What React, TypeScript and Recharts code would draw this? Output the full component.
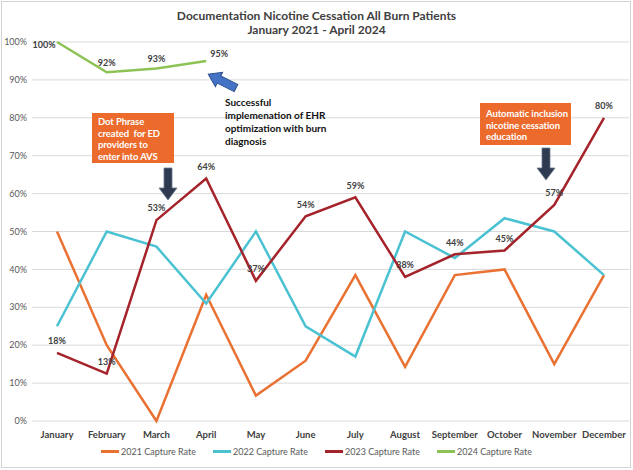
import React from 'react';
import { LineChart, Line, XAxis, YAxis, CartesianGrid } from 'recharts';

const months = ['January', 'February', 'March', 'April', 'May', 'June', 'July', 'August', 'September', 'October', 'November', 'December'];
const rate2021 = [50, 20, 0, 33.3, 6.7, 15.9, 38.5, 14.3, 38.5, 40, 15, 38.5];
const rate2022 = [25, 50, 46, 31, 50, 25, 17, 50, 43, 53.5, 50, 38.5];
const rate2023 = [18, 12.5, 53, 64, 37, 54, 59, 38, 44, 45, 57, 80];
const rate2024 = [100, 92, 93, 95];
const yTicks = [0, 10, 20, 30, 40, 50, 60, 70, 80, 90, 100];
const seriesNames = ['2021 Capture Rate', '2022 Capture Rate', '2023 Capture Rate', '2024 Capture Rate'];

const COLORS = ['#E97132', '#4BC2D2', '#A5232B', '#8DC255'];
const FONT = 'Lato, "Open Sans", sans-serif';

const data = months.map((m, i) => ({
  month: m,
  r2021: rate2021[i],
  r2022: rate2022[i],
  r2023: rate2023[i],
  r2024: i < rate2024.length ? rate2024[i] : null,
}));

const labelStyle = { fontSize: 9, fontWeight: 700, fill: '#404040', fontFamily: FONT };

const label2023 = (props: any) => {
  const { x, y, value, index } = props;
  if (value == null) return null;
  return (
    <text key={'l23' + index} x={x} y={y - 11} textAnchor="middle" dominantBaseline="middle" style={labelStyle}>
      {Math.round(value)}%
    </text>
  );
};

const label2024 = (props: any) => {
  const { x, y, value, index } = props;
  if (value == null) return null;
  let dx = 0;
  let dy = -9;
  if (index === 0) { dx = -13; dy = 4; }
  if (index === 3) { dx = 13; dy = -6; }
  return (
    <text key={'l24' + index} x={x + dx} y={y + dy} textAnchor="middle" dominantBaseline="middle" style={labelStyle}>
      {Math.round(value)}%
    </text>
  );
};

const boxStyle: React.CSSProperties = {
  position: 'absolute',
  background: '#EC6A2C',
  color: '#fff',
  fontFamily: FONT,
  fontWeight: 700,
  fontSize: 9.5,
  lineHeight: '11.5px',
  padding: '5px 6px',
  boxSizing: 'border-box',
  whiteSpace: 'nowrap',
  letterSpacing: -0.1,
};

export default function App() {
  return (
    <div style={{ position: 'absolute', left: 0, top: 0, width: 633, height: 470, background: '#fff', fontFamily: FONT }}>
      <div style={{ position: 'absolute', left: 1, top: 1, width: 630, height: 467, border: '1px solid #d4d4d4', boxSizing: 'border-box' }} />
      <div style={{ position: 'absolute', left: 0, top: 9, width: 633, textAlign: 'center', fontWeight: 700, fontSize: 12, lineHeight: '14px', color: '#404040' }}>
        <div>Documentation Nicotine Cessation All Burn Patients</div>
        <div>January 2021 - April 2024</div>
      </div>
      <div style={{ position: 'absolute', left: 0, top: 0 }}>
        <LineChart width={633} height={470} data={data} margin={{ top: 42, right: 4, bottom: 29, left: 0 }}>
          <CartesianGrid horizontal vertical={false} stroke="#d9d9d9" strokeWidth={1} />
          <XAxis
            dataKey="month"
            axisLine={false}
            tickLine={false}
            tickSize={0}
            tickMargin={10}
            height={20}
            interval={0}
            padding={{ left: 25, right: 25 }}
            tick={{ fontSize: 9.5, fontWeight: 700, fill: '#404040', fontFamily: FONT }}
          />
          <YAxis
            domain={[0, 100]}
            ticks={yTicks}
            width={32}
            axisLine={false}
            tickLine={false}
            tickSize={0}
            tickMargin={5}
            tickFormatter={(v: number) => `${v}%`}
            tick={{ fontSize: 9, fill: '#595959', fontFamily: FONT }}
          />
          <Line type="linear" dataKey="r2021" name={seriesNames[0]} stroke={COLORS[0]} strokeWidth={2.5} dot={false} isAnimationActive={false} />
          <Line type="linear" dataKey="r2022" name={seriesNames[1]} stroke={COLORS[1]} strokeWidth={2.5} dot={false} isAnimationActive={false} />
          <Line type="linear" dataKey="r2023" name={seriesNames[2]} stroke={COLORS[2]} strokeWidth={2.5} dot={false} isAnimationActive={false} label={label2023} />
          <Line type="linear" dataKey="r2024" name={seriesNames[3]} stroke={COLORS[3]} strokeWidth={2.5} dot={false} isAnimationActive={false} label={label2024} />
        </LineChart>
      </div>

      {/* Annotation boxes */}
      <div style={{ ...boxStyle, left: 92, top: 113, width: 82, height: 50, paddingTop: 3 }}>
        Dot Phrase<br />created&nbsp; for ED<br />providers to<br />enter into AVS
      </div>
      <div style={{ ...boxStyle, left: 480, top: 103, width: 91, height: 42 }}>
        Automatic inclusion<br />nicotine cessation<br />education
      </div>
      <div style={{ position: 'absolute', left: 225, top: 96, fontSize: 10, fontWeight: 700, lineHeight: '13px', color: '#111', whiteSpace: 'nowrap' }}>
        Successful<br />implemenation of EHR<br />optimization with burn<br />diagnosis
      </div>

      {/* Arrows */}
      <svg width={633} height={470} style={{ position: 'absolute', left: 0, top: 0, pointerEvents: 'none' }}>
        <polygon points="164,168 172,168 172,188 177,188 168,200 159,188 164,188" fill="#2E3A4F" stroke="#6b7a90" strokeWidth={0.8} />
        <polygon points="542,148 550,148 550,168 555,168 546,180 537,168 542,168" fill="#2E3A4F" stroke="#6b7a90" strokeWidth={0.8} />
        <g transform="translate(236,88) rotate(206.57)">
          <polygon points="0,-4 19,-4 19,-8 31,0 19,8 19,4 0,4" fill="#4472C4" stroke="#2F528F" strokeWidth={1} />
        </g>
      </svg>

      {/* Legend */}
      <div style={{ position: 'absolute', left: 0, top: 446, width: 633, display: 'flex', justifyContent: 'center', gap: 17, fontSize: 9, color: '#595959' }}>
        {seriesNames.map((n, i) => (
          <div key={n} style={{ display: 'flex', alignItems: 'center' }}>
            <div style={{ width: 18, height: 2.5, background: COLORS[i], marginRight: 2 }} />
            <span>{n}</span>
          </div>
        ))}
      </div>
    </div>
  );
}
